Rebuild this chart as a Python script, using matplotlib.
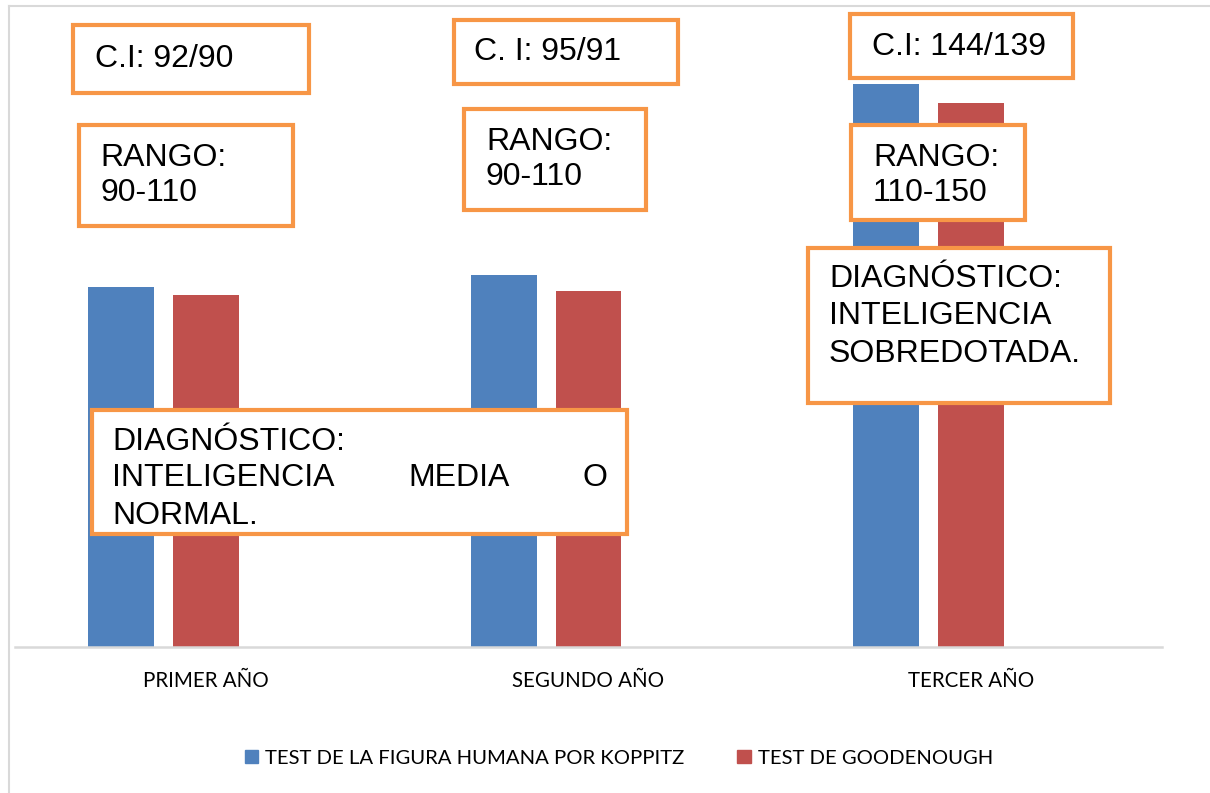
import numpy as np
import matplotlib
matplotlib.use("Agg")
import matplotlib.pyplot as plt
from matplotlib.patches import Rectangle, Patch
from matplotlib.lines import Line2D

# data
categories = ["PRIMER AÑO", "SEGUNDO AÑO", "TERCER AÑO"]
series_names = ["TEST DE LA FIGURA HUMANA POR KOPPITZ", "TEST DE GOODENOUGH"]
koppitz = [92, 95, 144]
goodenough = [90, 91, 139]
colors = ["#4F81BD", "#C0504D"]

W, H = 1210, 793
fig = plt.figure(figsize=(W / 100, H / 100), dpi=100)


def fx(px):
    return px / W


def fy(py):
    return 1 - py / H


# outer chart border (only left and top visible)
grey = "#D9D9D9"
fig.add_artist(Line2D([fx(9), fx(9)], [fy(6), 0], color=grey, lw=1.5))
fig.add_artist(Line2D([fx(9), 1], [fy(6), fy(6)], color=grey, lw=1.5))

ax = fig.add_axes([fx(15), fy(647), fx(1162) - fx(15), fy(21) - fy(647)])
x = np.arange(len(categories))
step = 0.2223
width = 0.1726
ax.bar(x - step, koppitz, width, color=colors[0], zorder=2)
ax.bar(x, goodenough, width, color=colors[1], zorder=2)
ax.set_xlim(-0.5, 2.5)
ax.set_ylim(0, 160)
ax.set_yticks([])
ax.set_xticks(x)
ax.set_xticklabels(categories, fontsize=14.8, family="Lato")
ax.tick_params(axis="x", length=0, pad=17)
for s in ["top", "left", "right"]:
    ax.spines[s].set_visible(False)
ax.spines["bottom"].set_color(grey)
ax.spines["bottom"].set_linewidth(1.8)

handles = [Patch(color=c) for c in colors]
fig.legend(handles, series_names, loc="center", bbox_to_anchor=(fx(619), fy(758)),
           ncol=2, frameon=False, handlelength=0.65, handleheight=0.65,
           handletextpad=0.35, columnspacing=2.6, prop={"family": "Lato", "size": 14.6})

orange = "#F79646"
tfont = {"family": "Liberation Sans", "size": 23, "color": "black"}


def box(x0, y0, x1, y1):
    fig.add_artist(Rectangle((fx(x0), fy(y1)), fx(x1) - fx(x0), fy(y0) - fy(y1),
                             facecolor="white", edgecolor=orange, lw=3, zorder=5))


def txt(px, py, s, ha="left"):
    fig.text(fx(px), fy(py + 2), s, ha=ha, va="center", zorder=6, **tfont)


box(73, 25, 309, 93)
txt(95, 57, "C.I: 92/90")
box(454, 20, 678, 84)
txt(474, 50, "C. I: 95/91")
box(850, 14, 1073, 78)
txt(872, 45, "C.I: 144/139")

box(79, 125, 293, 226)
txt(100, 156, "RANGO:")
txt(100, 191, "90-110")
box(464, 109, 646, 210)
txt(486, 140, "RANGO:")
txt(486, 175, "90-110")
box(851, 125, 1025, 220)
txt(873, 156, "RANGO:")
txt(873, 191, "110-150")

box(808, 248, 1110, 403)
txt(829, 277, "DIAGNÓSTICO:")
txt(829, 314, "INTELIGENCIA")
txt(829, 352, "SOBREDOTADA.")

box(92, 410, 627, 534)
txt(112, 440, "DIAGNÓSTICO:")
txt(112, 476, "INTELIGENCIA")
txt(459, 476, "MEDIA", ha="center")
txt(607, 476, "O", ha="right")
txt(112, 514, "NORMAL.")

fig.savefig("out.png", dpi=100)
